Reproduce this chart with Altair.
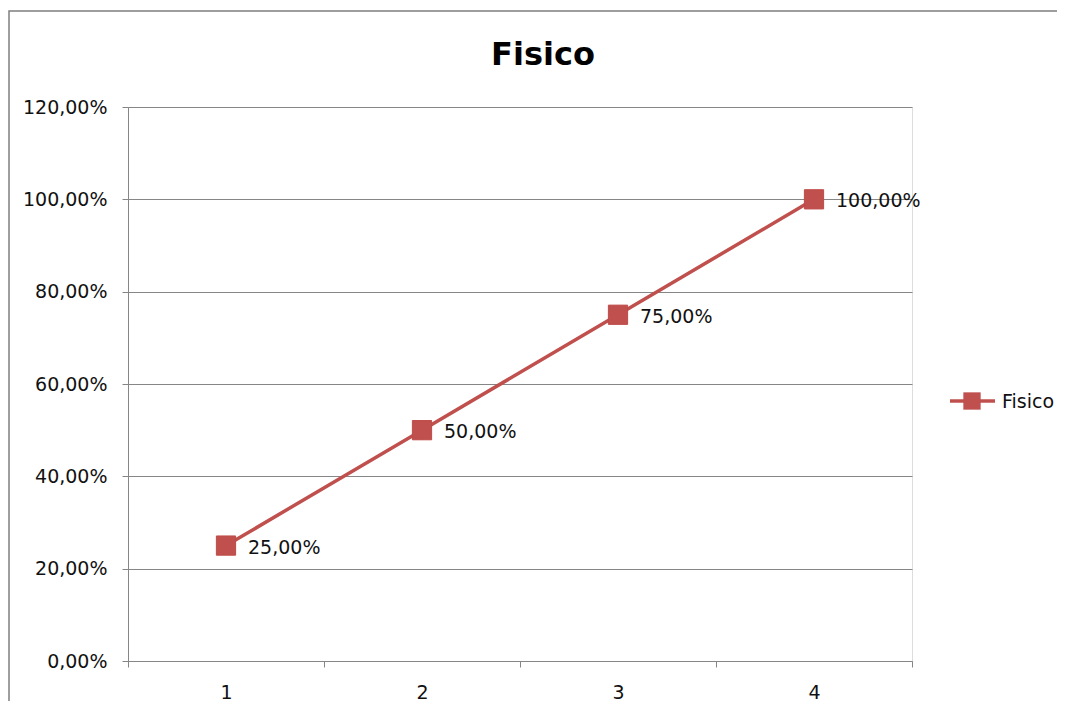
import altair as alt
import pandas as pd

# ---- data ----
categories = ["1", "2", "3", "4"]
values = [0.25, 0.50, 0.75, 1.00]
series_name = "Fisico"
chart_title = "Fisico"
y_ticks = [0.0, 0.2, 0.4, 0.6, 0.8, 1.0, 1.2]

RED = "#C0504D"
GRID = "#868686"
FONT = "DejaVu Sans"
TXT = "#111111"

df = pd.DataFrame({"cat": categories, "val": values, "serie": [series_name] * len(values)})

W, H = 784, 554
fmt = "replace(format(datum.value*100,'.2f'),'.',',') + '%'"

x_enc = alt.X(
    "cat:O",
    sort=categories,
    bandPosition=0.5,
    scale=alt.Scale(type="band", paddingInner=0, paddingOuter=0),
    axis=alt.Axis(
        title=None, labelAngle=0, tickBand="extent", grid=False,
        domainColor=GRID, tickColor=GRID, tickSize=6, labelPadding=16,
        labelFont=FONT, labelFontSize=19, labelColor=TXT,
    ),
)
y_enc = alt.Y(
    "val:Q",
    scale=alt.Scale(domain=[0, 1.2], nice=False, zero=True),
    axis=alt.Axis(
        title=None, values=y_ticks, labelExpr=fmt, grid=True, gridColor=GRID,
        gridWidth=1, domainColor=GRID, tickColor=GRID, tickSize=6, labelPadding=15,
        labelFont=FONT, labelFontSize=19, labelColor=TXT,
    ),
)

base = alt.Chart(df)

line = base.mark_line(color=RED, strokeWidth=3.5).encode(x=x_enc, y=y_enc)
pts = base.mark_point(shape="square", filled=True, size=370, color=RED, opacity=1,
                      stroke="#BE4B48", strokeWidth=1).encode(x=x_enc, y=y_enc)
labels = base.transform_calculate(
    lab="replace(format(datum.val*100,'.2f'),'.',',') + '%'"
).mark_text(align="left", baseline="middle", dx=22, dy=2, font=FONT, fontSize=19, color=TXT).encode(
    x=x_enc, y=y_enc, text="lab:N"
)

one = pd.DataFrame({"t": [chart_title], "s": [series_name]})

border = alt.Chart(one).mark_rect(fill="transparent", stroke="#7F7F7F", strokeWidth=1.5).encode(
    x=alt.value(-119), x2=alt.value(1100), y=alt.value(-96), y2=alt.value(800)
)

title = alt.Chart(one).mark_text(align="center", baseline="alphabetic", font=FONT,
                                  fontSize=32, fontWeight="bold", color="#000000").encode(
    text="t:N", x=alt.value(415), y=alt.value(-42)
)

leg_line = alt.Chart(one).mark_rule(color=RED, strokeWidth=3.5).encode(
    x=alt.value(822), x2=alt.value(867), y=alt.value(294)
)
leg_pt = alt.Chart(one).mark_point(shape="square", filled=True, size=300, color=RED, opacity=1).encode(
    x=alt.value(844), y=alt.value(294)
)
leg_txt = alt.Chart(one).mark_text(align="left", baseline="middle", font=FONT, fontSize=19, color=TXT).encode(
    text="s:N", x=alt.value(874), y=alt.value(295)
)

chart = alt.layer(border, line, pts, labels, title, leg_line, leg_pt, leg_txt).properties(
    width=W, height=H,
    autosize=alt.AutoSizeParams(type="none"),
    padding={"left": 120, "top": 99, "right": 145, "bottom": 40},
).configure_view(strokeWidth=0).configure(background="white")

chart.save("out.html", embed_options={"renderer": "svg", "actions": False})
